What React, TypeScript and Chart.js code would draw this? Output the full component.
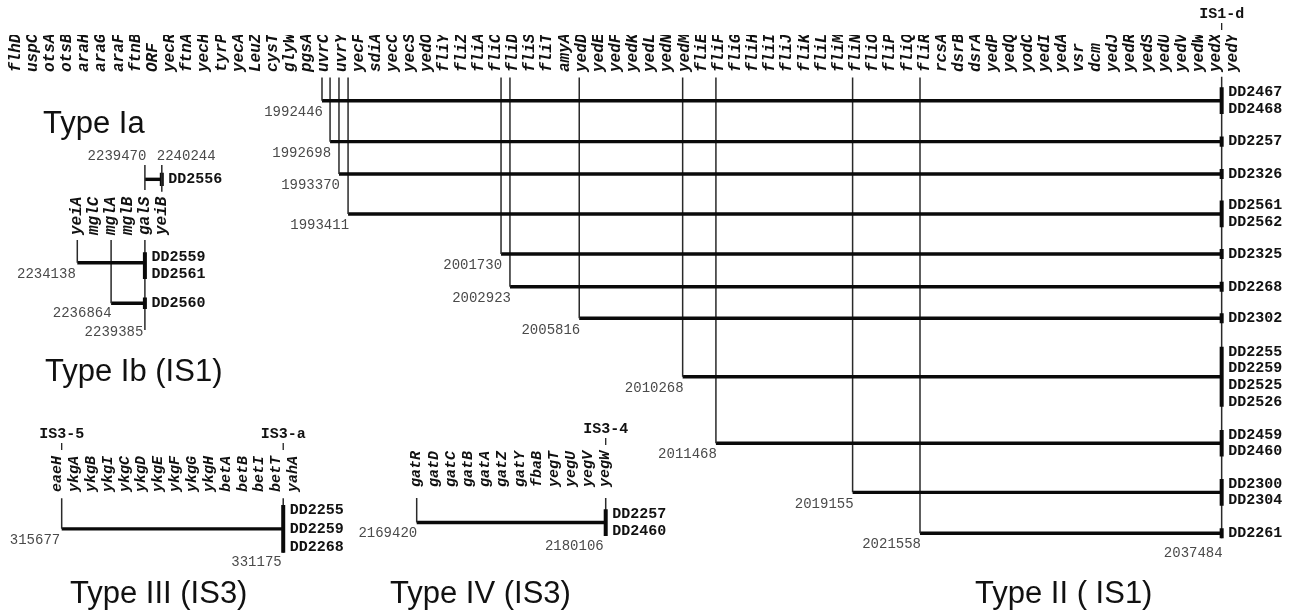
import React, { useEffect, useRef } from 'react';
import { Chart, registerables } from 'chart.js';

Chart.register(...registerables);

// ---------------- Type II (IS1) : main panel ----------------
const typeIIGenes = ['flhD','uspC','otsA','otsB','araH','araG','araF','ftnB','ORF','yecR','ftnA','yecH','tyrP','yecA','LeuZ','cysT','glyW','pgsA','uvrC','uvrY','yecF','sdiA','yecC','yecS','yedO','fliY','fliZ','fliA','fliC','fliD','fliS','fliT','amyA','yedD','yedE','yedF','yedK','yedL','yedN','yedM','fliE','fliF','fliG','fliH','fliI','fliJ','fliK','fliL','fliM','fliN','fliO','fliP','fliQ','fliR','rcsA','dsrB','dsrA','yedP','yedQ','yodC','yedI','yedA','vsr','dcm','yedJ','yedR','yedS','yedU','yedV','yedW','yedX','yedY'];
// deletion start, in gene-index units along the gene axis
const typeIIStarts = [18.86, 19.33, 19.85, 20.38, 29.30, 29.82, 33.86, 39.89, 41.83, 49.80, 53.73];
const typeIIEnd = 71.32;
// track (row) of each deletion, in label-line units from the gene axis
const typeIIRows = [1.54, 3.99, 5.93, 8.32, 10.72, 12.68, 14.57, 18.07, 22.05, 24.99, 27.44];
const typeIIStartCoords = ['1992446','1992698','1993370','1993411','2001730','2002923','2005816','2010268','2011468','2019155','2021558'];
const typeIIEndCoord = '2037484';
const typeIIStrains = [['DD2467','DD2468'],['DD2257'],['DD2326'],['DD2561','DD2562'],['DD2325'],['DD2268'],['DD2302'],['DD2255','DD2259','DD2525','DD2526'],['DD2459','DD2460'],['DD2300','DD2304'],['DD2261']];
const typeIIInsertion = 'IS1-d';

// ---------------- Type Ia ----------------
const iaStart = 5;
const iaEnd = 6;
const iaRow = 2.36;
const iaCoords = ['2239470', '2240244'];
const iaStrains = ['DD2556'];

// ---------------- Type Ib (IS1) ----------------
const ibGenes = ['yeiA','mglC','mglA','mglB','galS','yeiB'];
const ibStarts = [1, 3];
const ibEnd = 5;
const ibRows = [1.48, 3.91];
const ibStartCoords = ['2234138', '2236864'];
const ibEndCoord = '2239385';
const ibStrains = [['DD2559','DD2561'], ['DD2560']];
const ibStrainRows = [1.66, 3.91];

// ---------------- Type III (IS3) ----------------
const t3Genes = ['eaeH','ykgA','ykgB','ykgI','ykgC','ykgD','ykgE','ykgF','ykgG','ykgH','betA','betB','betI','betT','yahA'];
const t3Start = 1.26;
const t3End = 14.4;
const t3Row = 1.85;
const t3Coords = ['315677', '331175'];
const t3Strains = ['DD2255','DD2259','DD2268'];
const t3Insertions = ['IS3-5', 'IS3-a'];

// ---------------- Type IV (IS3) ----------------
const t4Genes = ['gatR','gatD','gatC','gatB','gatA','gatZ','gatY','fbaB','yegT','yegU','yegV','yegW'];
const t4Start = 1;
const t4End = 12;
const t4Row = 1.95;
const t4Coords = ['2169420', '2180106'];
const t4Strains = ['DD2257','DD2460'];
const t4Insertion = 'IS3-4';

const panelTitles = ['Type Ia', 'Type Ib (IS1)', 'Type III (IS3)', 'Type IV (IS3)', 'Type II ( IS1)'];

// ---------------- helpers ----------------
type Txt = { x: number; y: number; text: string; kind: 'num' | 'dd' | 'is'; align?: CanvasTextAlign; dx?: number; dy?: number };
type Seg = { x0: number; y0: number; x1: number; y1: number; w: 'thin' | 'thick' | 'bar' };
interface Spec {
  key: string; left: number; top: number; w: number; h: number;
  genes: string[] | null; nGenes: number; geneSize: number; axisH: number;
  pad: { left: number; right: number; top: number; bottom: number };
  yMax: number; segs: Seg[]; texts: Txt[];
}

const WIDTH: Record<string, number> = { thin: 1.5, thick: 3.4, bar: 4 };
const COLOR: Record<string, string> = { thin: '#2a2a2a', thick: '#0a0a0a', bar: '#0a0a0a' };

function strainGroup(x: number, center: number, labels: string[], segs: Seg[], texts: Txt[], half?: number) {
  const h = half ?? labels.length / 2 - 0.2;
  segs.push({ x0: x, y0: center - h, x1: x, y1: center + h, w: 'bar' });
  labels.forEach((l, k) => texts.push({ x, y: center + k - (labels.length - 1) / 2, text: l, kind: 'dd', dx: 6.5 }));
}

const annotPlugin = {
  id: 'annot',
  afterDatasetsDraw(chart: any, _a: any, opts: any) {
    const { ctx, chartArea } = chart;
    const xs = chart.scales.x;
    const ys = chart.scales.y;
    ctx.save();
    ctx.textBaseline = 'middle';
    for (const t of (opts.texts || []) as Txt[]) {
      const px = xs.getPixelForValue(t.x) + (t.dx || 0);
      if (t.kind === 'is') {
        ctx.font = 'bold 15px "Liberation Mono"';
        ctx.fillStyle = '#111';
        ctx.textAlign = 'center';
        ctx.fillText(t.text, px, chartArea.top - 61);
        ctx.strokeStyle = '#222';
        ctx.lineWidth = 1.3;
        ctx.beginPath();
        ctx.moveTo(px, chartArea.top - 52);
        ctx.lineTo(px, chartArea.top - 45);
        ctx.stroke();
        continue;
      }
      const py = ys.getPixelForValue(t.y) + (t.dy || 0);
      ctx.font = t.kind === 'dd' ? 'bold 15px "Liberation Mono"' : '14px "Liberation Mono"';
      ctx.fillStyle = t.kind === 'dd' ? '#111' : '#4a4a4a';
      ctx.textAlign = t.align || 'left';
      ctx.fillText(t.text, px, py);
    }
    ctx.restore();
  },
};

function buildConfig(p: Spec): any {
  const datasets = p.segs.map((s) => ({
    data: [{ x: s.x0, y: s.y0 }, { x: s.x1, y: s.y1 }],
    borderColor: COLOR[s.w],
    borderWidth: WIDTH[s.w],
    pointRadius: 0,
    showLine: true,
    fill: false,
    tension: 0,
    clip: false,
  }));
  const genes = p.genes;
  return {
    type: 'line',
    data: { datasets },
    options: {
      animation: false,
      responsive: false,
      maintainAspectRatio: false,
      events: [],
      layout: { padding: p.pad },
      plugins: { legend: { display: false }, tooltip: { enabled: false }, title: { display: false }, annot: { texts: p.texts } },
      scales: {
        x: {
          type: 'linear', position: 'top', display: !!genes, min: 0.5, max: p.nGenes + 0.5,
          grid: { display: false, drawTicks: false }, border: { display: false },
          afterBuildTicks: (s: any) => { if (genes) s.ticks = genes.map((_, i) => ({ value: i + 1 })); },
          afterFit: (s: any) => { s.height = p.axisH; s.paddingLeft = 0; s.paddingRight = 0; },
          ticks: {
            autoSkip: false, minRotation: 90, maxRotation: 90, padding: 3, color: '#111',
            labelOffset: p.geneSize * 1.2,
            font: { family: 'Liberation Mono', size: p.geneSize, weight: 'bold', style: 'italic' },
            callback: (v: number) => (genes ? genes[Math.round(v) - 1] ?? '' : ''),
          },
        },
        y: { type: 'linear', display: false, reverse: true, min: 0, max: p.yMax },
      },
    },
    plugins: [annotPlugin],
  };
}

// ---------------- panel specs ----------------
function mainSpec(): Spec {
  const segs: Seg[] = [];
  const texts: Txt[] = [];
  const top = 0.15;
  typeIIStarts.forEach((s, i) => {
    segs.push({ x0: s, y0: top, x1: s, y1: typeIIRows[i], w: 'thin' });
    segs.push({ x0: s, y0: typeIIRows[i], x1: typeIIEnd, y1: typeIIRows[i], w: 'thick' });
    texts.push({ x: s, y: typeIIRows[i], text: typeIIStartCoords[i], kind: 'num', align: 'right', dx: 1, dy: 11.5 });
    strainGroup(typeIIEnd, typeIIRows[i], typeIIStrains[i], segs, texts);
  });
  const last = typeIIRows[typeIIRows.length - 1] + 0.3;
  segs.push({ x0: typeIIEnd, y0: 0.1, x1: typeIIEnd, y1: last, w: 'thin' });
  texts.push({ x: typeIIEnd, y: last, text: typeIIEndCoord, kind: 'num', align: 'right', dx: 1, dy: 15 });
  texts.push({ x: typeIIEnd, y: 0, text: typeIIInsertion, kind: 'is' });
  return {
    key: 'II', left: 0, top: 0, w: 1291, h: 614, genes: typeIIGenes, nGenes: typeIIGenes.length, geneSize: 16, axisH: 40,
    pad: { left: 7.13, right: 49.1, top: 35, bottom: 38 }, yMax: 30, segs, texts,
  };
}

function iaSpec(): Spec {
  const segs: Seg[] = [];
  const texts: Txt[] = [];
  segs.push({ x0: iaStart, y0: 1.5, x1: iaStart, y1: 3.0, w: 'thin' });
  segs.push({ x0: iaEnd, y0: 1.5, x1: iaEnd, y1: 3.1, w: 'thin' });
  segs.push({ x0: iaStart, y0: iaRow, x1: iaEnd, y1: iaRow, w: 'thick' });
  strainGroup(iaEnd, iaRow, iaStrains, segs, texts, 0.4);
  texts.push({ x: iaStart, y: 1.5, text: iaCoords[0], kind: 'num', align: 'right', dx: 1.5, dy: -9 });
  texts.push({ x: iaEnd, y: 1.5, text: iaCoords[1], kind: 'num', align: 'left', dx: -5, dy: -9 });
  return {
    key: 'Ia', left: 0, top: 140, w: 260, h: 70, genes: null, nGenes: ibGenes.length, geneSize: 16, axisH: 0,
    pad: { left: 68.85, right: 89.75, top: 0, bottom: 0 }, yMax: 4.2, segs, texts,
  };
}

function ibSpec(): Spec {
  const segs: Seg[] = [];
  const texts: Txt[] = [];
  const top = 0.12;
  ibStarts.forEach((s, i) => {
    segs.push({ x0: s, y0: top, x1: s, y1: ibRows[i], w: 'thin' });
    segs.push({ x0: s, y0: ibRows[i], x1: ibEnd, y1: ibRows[i], w: 'thick' });
    strainGroup(ibEnd, ibStrainRows[i], ibStrains[i], segs, texts, i === 1 ? 0.35 : undefined);
  });
  texts.push({ x: ibStarts[0], y: ibRows[0], text: ibStartCoords[0], kind: 'num', align: 'right', dx: -1.5, dy: 12 });
  texts.push({ x: ibStarts[1], y: ibRows[1], text: ibStartCoords[1], kind: 'num', align: 'right', dx: 0.5, dy: 10 });
  const bottom = 5.51;
  segs.push({ x0: ibEnd, y0: top, x1: ibEnd, y1: bottom, w: 'thin' });
  texts.push({ x: ibEnd, y: bottom, text: ibEndCoord, kind: 'num', align: 'right', dx: -1.5, dy: 2 });
  return {
    key: 'Ib', left: 0, top: 195, w: 260, h: 150, genes: ibGenes, nGenes: ibGenes.length, geneSize: 16, axisH: 43,
    pad: { left: 68.85, right: 89.75, top: 0, bottom: 0 }, yMax: 6.41, segs, texts,
  };
}

function t3Spec(): Spec {
  const segs: Seg[] = [];
  const texts: Txt[] = [];
  const top = 0.18;
  segs.push({ x0: t3Start, y0: top, x1: t3Start, y1: t3Row, w: 'thin' });
  segs.push({ x0: t3Start, y0: t3Row, x1: t3End, y1: t3Row, w: 'thick' });
  strainGroup(t3End, t3Row, t3Strains, segs, texts);
  const bottom = t3Row + t3Strains.length / 2 - 0.2;
  segs.push({ x0: t3End, y0: top, x1: t3End, y1: bottom, w: 'thin' });
  texts.push({ x: t3Start, y: t3Row, text: t3Coords[0], kind: 'num', align: 'right', dx: -1.5, dy: 11 });
  texts.push({ x: t3End, y: bottom, text: t3Coords[1], kind: 'num', align: 'right', dx: -1.5, dy: 10 });
  texts.push({ x: t3Start, y: 0, text: t3Insertions[0], kind: 'is' });
  texts.push({ x: t3End, y: 0, text: t3Insertions[1], kind: 'is' });
  return {
    key: 'III', left: 0, top: 415, w: 380, h: 160, genes: t3Genes, nGenes: t3Genes.length, geneSize: 15, axisH: 80,
    pad: { left: 48.87, right: 78.23, top: 0, bottom: 0 }, yMax: 4.37, segs, texts,
  };
}

function t4Spec(): Spec {
  const segs: Seg[] = [];
  const texts: Txt[] = [];
  const top = 0.48;
  segs.push({ x0: t4Start, y0: top, x1: t4Start, y1: t4Row, w: 'thin' });
  segs.push({ x0: t4Start, y0: t4Row, x1: t4End, y1: t4Row, w: 'thick' });
  strainGroup(t4End, t4Row, t4Strains, segs, texts);
  const bottom = t4Row + t4Strains.length / 2 - 0.2;
  segs.push({ x0: t4End, y0: top, x1: t4End, y1: bottom, w: 'thin' });
  texts.push({ x: t4Start, y: t4Row, text: t4Coords[0], kind: 'num', align: 'right', dx: 0.5, dy: 11 });
  texts.push({ x: t4End, y: bottom, text: t4Coords[1], kind: 'num', align: 'right', dx: -2, dy: 10 });
  texts.push({ x: t4End, y: 0, text: t4Insertion, kind: 'is' });
  return {
    key: 'IV', left: 340, top: 410, w: 330, h: 160, genes: t4Genes, nGenes: t4Genes.length, geneSize: 15, axisH: 80,
    pad: { left: 68.1, right: 55.7, top: 0, bottom: 0 }, yMax: 4.79, segs, texts,
  };
}

function Panel({ spec }: { spec: Spec }) {
  const ref = useRef<HTMLCanvasElement>(null);
  useEffect(() => {
    if (!ref.current) return;
    const chart = new Chart(ref.current, buildConfig(spec));
    return () => chart.destroy();
  }, [spec]);
  return (
    <canvas
      ref={ref}
      width={spec.w}
      height={spec.h}
      style={{ position: 'absolute', left: spec.left, top: spec.top, width: spec.w, height: spec.h }}
    />
  );
}

const titlePos = [
  { left: 43, top: 107 },
  { left: 45, top: 355 },
  { left: 70, top: 577 },
  { left: 390, top: 577 },
  { left: 975, top: 577 },
];

const specs = [mainSpec(), iaSpec(), ibSpec(), t3Spec(), t4Spec()];

export default function App() {
  return (
    <div style={{ position: 'absolute', left: 0, top: 0, width: 1291, height: 614, background: '#fff', overflow: 'hidden' }}>
      {specs.map((s) => <Panel key={s.key} spec={s} />)}
      {panelTitles.map((t, i) => (
        <div
          key={t}
          style={{
            position: 'absolute', left: titlePos[i].left, top: titlePos[i].top,
            font: '31px "Liberation Sans"', lineHeight: '31px', color: '#111', whiteSpace: 'pre',
          }}
        >
          {t}
        </div>
      ))}
    </div>
  );
}
